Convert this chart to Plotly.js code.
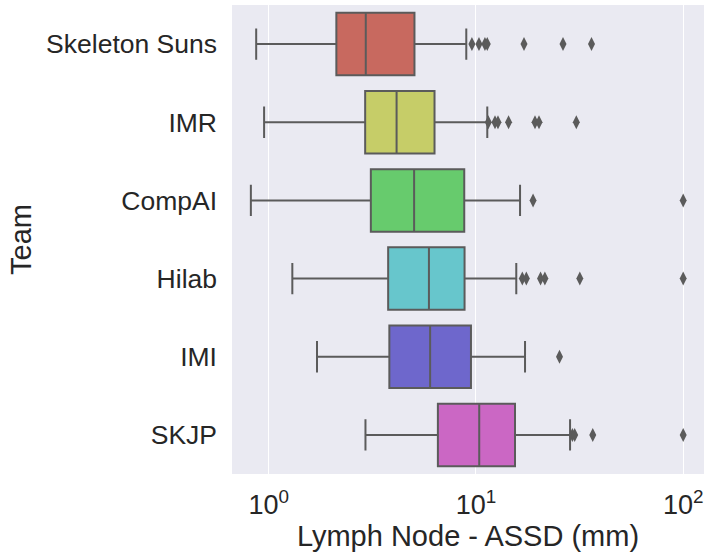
<!DOCTYPE html>
<html>
<head>
<meta charset="utf-8">
<script src="https://cdn.plot.ly/plotly-3.0.1.min.js"></script>
<style>html,body{margin:0;padding:0;background:#fff;}#chart{width:726px;height:556px;}</style>
</head>
<body>
<div id="chart"></div>
<script>
const teams = ["Skeleton Suns", "IMR", "CompAI", "Hilab", "IMI", "SKJP"];
const colors = ["#C8695F", "#C6CD68", "#67CB6D", "#67C6CC", "#6E67CC", "#CB67C4"];
const lowerWhisker = [0.87, 0.95, 0.82, 1.30, 1.71, 2.93];
const q1Values = [2.12, 2.92, 3.11, 3.77, 3.82, 6.55];
const medianValues = [2.94, 4.14, 5.03, 5.93, 6.01, 10.37];
const q3Values = [5.05, 6.31, 8.78, 8.81, 9.46, 15.43];
const upperWhisker = [8.98, 11.34, 16.32, 15.65, 17.25, 28.45];
const outliers = [
  [9.56, 10.34, 11.05, 11.34, 17.06, 26.3, 36.1],
  [11.47, 12.36, 12.77, 14.37, 19.27, 20.15, 30.5],
  [18.86, 100],
  [16.74, 17.5, 20.5, 21.5, 31.7, 100],
  [25.3],
  [29.2, 29.95, 36.6, 100]
];

const lineColor = "#5B5B5B";
const traces = teams.map((t, i) => ({
  type: "box",
  orientation: "h",
  name: t,
  y: [t],
  q1: [q1Values[i]],
  median: [medianValues[i]],
  q3: [q3Values[i]],
  lowerfence: [lowerWhisker[i]],
  upperfence: [upperWhisker[i]],
  fillcolor: colors[i],
  line: {color: lineColor, width: 2},
  whiskerwidth: 0.5,
  width: 0.8,
  boxpoints: false,
  showlegend: false,
  hoverinfo: "x"
}));

const ox = [], oy = [];
outliers.forEach((arr, i) => arr.forEach(v => { ox.push(v); oy.push(teams[i]); }));
traces.push({
  type: "scatter",
  mode: "markers",
  x: ox,
  y: oy,
  marker: {symbol: "diamond-tall", size: 10, color: lineColor, line: {width: 0}},
  showlegend: false
});

const layout = {
  width: 726,
  height: 556,
  margin: {l: 232, r: 22, t: 5, b: 82},
  paper_bgcolor: "#ffffff",
  plot_bgcolor: "#EAEAF2",
  font: {family: "Liberation Sans, Arial, sans-serif", color: "#262626", size: 27},
  boxmode: "overlay",
  xaxis: {
    type: "log",
    range: [Math.log10(0.665), Math.log10(126)],
    tickvals: [1, 10, 100],
    ticktext: ["10<sup>0</sup>", "10<sup>1</sup>", "10<sup>2</sup>"],
    showgrid: true,
    gridcolor: "#ffffff",
    gridwidth: 1,
    zeroline: false,
    showline: false,
    ticks: "",
    ticklabelstandoff: 12,
    tickfont: {size: 27},
    title: {text: "Lymph Node - ASSD (mm)", font: {size: 29}, standoff: 6}
  },
  yaxis: {
    type: "category",
    categoryorder: "array",
    categoryarray: teams,
    range: [5.5, -0.5],
    showgrid: false,
    zeroline: false,
    showline: false,
    ticks: "",
    ticklabelstandoff: 14,
    tickfont: {size: 26.5},
    title: {text: "Team", font: {size: 29}, standoff: 5}
  }
};

Plotly.newPlot("chart", traces, layout, {displayModeBar: false, staticPlot: true});
</script>
</body>
</html>
